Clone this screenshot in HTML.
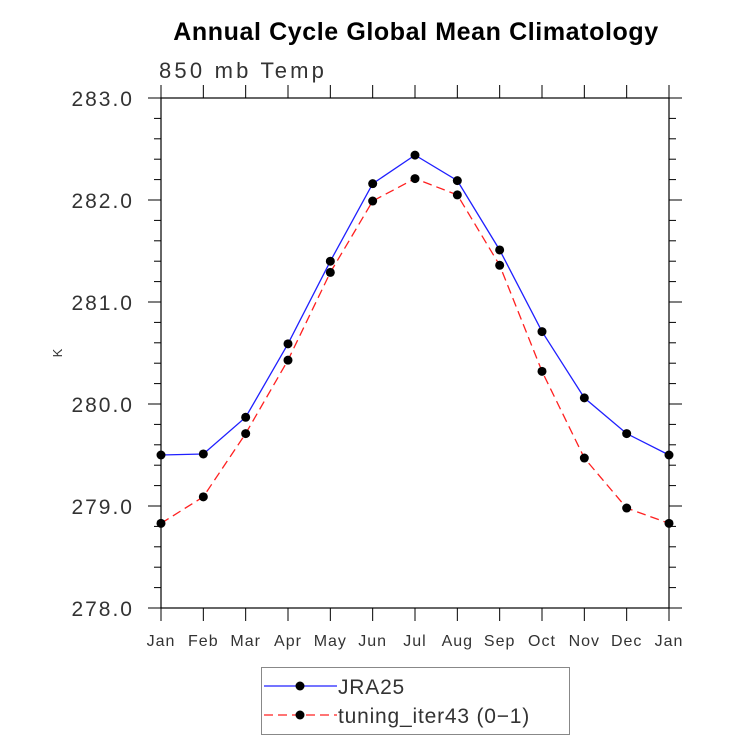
<!DOCTYPE html>
<html><head><meta charset="utf-8"><style>
body{margin:0;background:#fff;}
svg text{font-family:"Liberation Sans",sans-serif;}
</style></head><body>
<svg id="chart" width="733" height="741" xmlns="http://www.w3.org/2000/svg">
<text x="416" y="40" text-anchor="middle" font-size="25" font-weight="bold" letter-spacing="0.6">Annual Cycle Global Mean Climatology</text>
<text x="159" y="78" font-size="22" fill="#333" letter-spacing="3.2">850 mb Temp</text>
<text x="62" y="353" font-size="13" fill="#333" text-anchor="middle" transform="rotate(-90 62 353)">K</text>
<g id="axes"></g>
<g id="series"></g>
<g>
<rect x="261.5" y="667.5" width="308" height="67" fill="#fff" stroke="#888" stroke-width="1"/>
<line x1="264" y1="686" x2="337" y2="686" stroke="#2020ff" stroke-width="1.3"/>
<circle cx="300" cy="686" r="4.5" fill="#000"/>
<text x="338" y="694" font-size="21" fill="#333" letter-spacing="0.8">JRA25</text>
<line x1="264" y1="715" x2="337" y2="715" stroke="#ff2020" stroke-width="1.3" stroke-dasharray="9,5"/>
<circle cx="300" cy="715" r="4.5" fill="#000"/>
<text x="338" y="723" font-size="21" fill="#333" letter-spacing="0.8">tuning_iter43 (0−1)</text>
</g>
</svg>
<script>
const months = ["Jan","Feb","Mar","Apr","May","Jun","Jul","Aug","Sep","Oct","Nov","Dec","Jan"];
const jra25 = [279.50,279.51,279.87,280.59,281.40,282.16,282.44,282.19,281.51,280.71,280.06,279.71,279.50];
const tuning = [278.83,279.09,279.71,280.43,281.29,281.99,282.21,282.05,281.36,280.32,279.47,278.98,278.83];
const yTicks = ["278.0","279.0","280.0","281.0","282.0","283.0"];

const L=161,R=669,T=98,B=608,yMin=278,yMax=283;
const xs=i=>L+(R-L)*i/(months.length-1);
const ys=v=>B-(v-yMin)/(yMax-yMin)*(B-T);
const NS="http://www.w3.org/2000/svg";
function mk(tag,attrs,parent){const e=document.createElementNS(NS,tag);for(const k in attrs)e.setAttribute(k,attrs[k]);parent.appendChild(e);return e;}
const ax=document.getElementById('axes');
const frame=mk('rect',{x:L,y:T,width:R-L,height:B-T,fill:'none',stroke:'#000','stroke-width':1.2},ax);


months.forEach((m,i)=>{
  const x=xs(i);
  mk('line',{x1:x,y1:B,x2:x,y2:B+13,stroke:'#000','stroke-width':1},ax);
  mk('line',{x1:x,y1:T,x2:x,y2:T-13,stroke:'#000','stroke-width':1},ax);
  const t=mk('text',{x:x,y:B+38,'text-anchor':'middle','font-size':16,fill:'#333','letter-spacing':1},ax);
  t.textContent=m;
  
  
});
for(let v=yMin;v<=yMax+1e-9;v+=0.2){
  const y=ys(v);const major=Math.abs(v-Math.round(v))<1e-6;const len=major?13:7;
  mk('line',{x1:L,y1:y,x2:L-len,y2:y,stroke:'#000','stroke-width':1},ax);
  mk('line',{x1:R,y1:y,x2:R+len,y2:y,stroke:'#000','stroke-width':1},ax);
}
yTicks.forEach(s=>{
  const y=ys(parseFloat(s));
  const t=mk('text',{x:134,y:y+8,'text-anchor':'end','font-size':21,fill:'#333','letter-spacing':2},ax);
  t.textContent=s;
  
  
});
const sg=document.getElementById('series');
function draw(vals,color,dash,name){
  const pts=vals.map((v,i)=>xs(i)+','+ys(v)).join(' ');
  const pl=mk('polyline',{points:pts,fill:'none',stroke:color,'stroke-width':1.3},sg);
  if(dash)pl.setAttribute('stroke-dasharray',dash);
  
  
  vals.forEach((v,i)=>{
    const c=mk('circle',{cx:xs(i),cy:ys(v),r:4.5,fill:'#000'},sg);
    
    
  });
}
draw(jra25,'#2020ff',null,'jra25');
draw(tuning,'#ff2020','9,5','tuning');
</script>
</body></html>
